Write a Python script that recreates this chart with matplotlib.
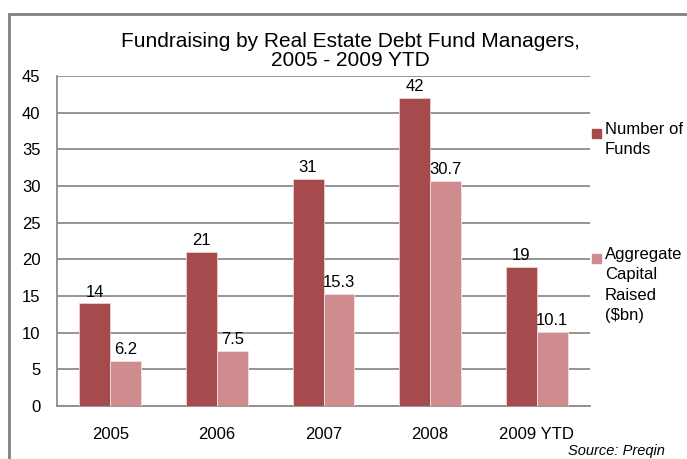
import numpy as np
import matplotlib
matplotlib.use("Agg")
import matplotlib.pyplot as plt
from matplotlib.patches import Rectangle

plt.rcParams['font.family'] = ['Liberation Sans', 'DejaVu Sans']

# data
years = ['2005', '2006', '2007', '2008', '2009 YTD']
num_funds = [14, 21, 31, 42, 19]
capital_bn = [6.2, 7.5, 15.3, 30.7, 10.1]
series_names = ['Number of\nFunds', 'Aggregate\nCapital\nRaised\n($bn)']
colors = ['#a54b4e', '#cf8c8f']

fig = plt.figure(figsize=(6.87, 4.59), dpi=100)
ax = fig.add_axes([57/687, 1 - 406/459, (590-57)/687, (406-76)/459])

x = np.arange(len(years))
w = 0.29
b1 = ax.bar(x - w/2, num_funds, w, color=colors[0], edgecolor='#f0d0d0', linewidth=0.6, zorder=3)
b2 = ax.bar(x + w/2, capital_bn, w, color=colors[1], edgecolor='#f6e0e0', linewidth=0.6, zorder=3)

for rect, v in zip(b1, num_funds):
    ax.text(rect.get_x() + rect.get_width()/2, v + 0.5, f'{v:g}', ha='center', va='bottom', fontsize=12)
for rect, v in zip(b2, capital_bn):
    ax.text(rect.get_x() + rect.get_width()/2, v + 0.5, f'{v:g}', ha='center', va='bottom', fontsize=12)

ax.set_xlim(-0.5, len(years) - 0.5)
ax.set_ylim(0, 45)
ax.set_yticks(np.arange(0, 46, 5))
ax.set_xticks(x)
ax.set_xticklabels(years)
ax.tick_params(axis='both', length=0, labelsize=12)
ax.tick_params(axis='y', pad=12)
ax.tick_params(axis='x', pad=15)
ax.yaxis.grid(True, color='#8c8c8c', linewidth=1.3, zorder=0)
for s in ['top', 'right']:
    ax.spines[s].set_visible(False)
ax.spines['left'].set_color('#8c8c8c')
ax.spines['left'].set_linewidth(1.3)
ax.spines['bottom'].set_color('#8c8c8c')
ax.spines['bottom'].set_linewidth(1.3)

fig.text(350/687, 1 - 51/459, 'Fundraising by Real Estate Debt Fund Managers,\n2005 - 2009 YTD',
         ha='center', va='center', fontsize=15, linespacing=1.05)

# legend drawn by hand
leg_y = [133, 258]
for name, c, yy in zip(series_names, colors, leg_y):
    fig.patches.append(Rectangle((592/687, 1 - (yy + 5)/459), 9/687, 9/459,
                                 transform=fig.transFigure, color=c))
    fig.text(605/687, 1 - (yy - 11)/459, name, ha='left', va='top', fontsize=12, linespacing=1.45)

fig.text(568/687, 1 - 458/459, 'Source: Preqin', ha='left', va='bottom', fontsize=10.5, style='italic')

# outer frame
fig.patches.append(Rectangle((9/687, -0.05), 1.2, 1 - 14/459 + 0.05, transform=fig.transFigure,
                             fill=False, edgecolor='#808080', linewidth=2))

fig.savefig('out.png', dpi=100)
